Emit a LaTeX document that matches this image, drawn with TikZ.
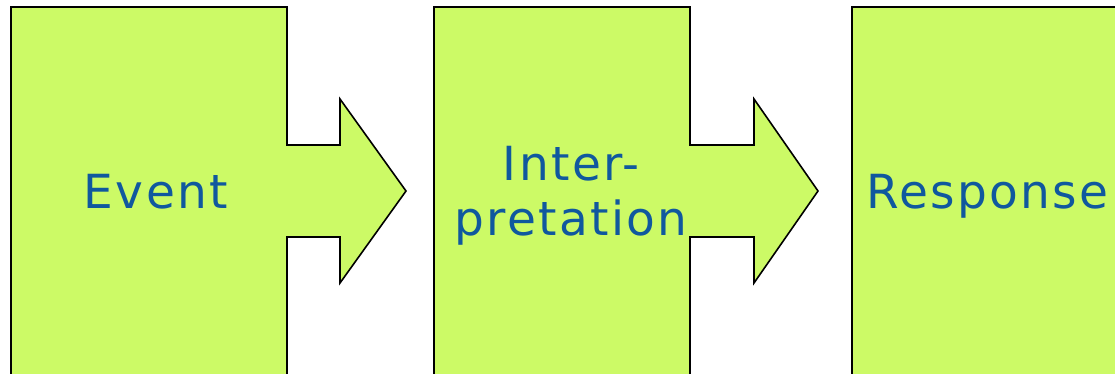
\documentclass[tikz,border=0pt]{standalone}
\usepackage{fontspec}
\setmainfont{DejaVu Sans}[LetterSpace=5]
\definecolor{boxfill}{RGB}{204,250,102}
\definecolor{txtblue}{RGB}{16,88,158}
\begin{document}
\begin{tikzpicture}[x=1pt,y=-1pt,
  blockarrow/.style={draw=black,line width=1.6pt,fill=boxfill,line join=miter},
  lbl/.style={text=txtblue,font=\fontsize{47}{55}\selectfont,inner sep=0pt,anchor=base}]
\useasboundingbox (0,0) rectangle (1115,374);
\clip (0,0) rectangle (1115,374);
% shape 1
\draw[blockarrow] (11,7) -- (287,7) -- (287,145) -- (340,145) -- (340,99) -- (406,191)
  -- (340,283) -- (340,237) -- (287,237) -- (287,420) -- (11,420) -- cycle;
% shape 2
\draw[blockarrow] (434,7) -- (690,7) -- (690,145) -- (754,145) -- (754,99) -- (818,191)
  -- (754,283) -- (754,237) -- (690,237) -- (690,420) -- (434,420) -- cycle;
% shape 3
\draw[blockarrow] (852,7) -- (1140,7) -- (1140,420) -- (852,420) -- cycle;
\node[lbl] (event) at (156,208) {Event};
\node[lbl] (inter) at (571,180) {Inter-};
\node[lbl] (pret) at (571,235) {pretation};
\node[lbl,anchor=base west] (resp) at (866,208) {Response};
\end{tikzpicture}
\end{document}
